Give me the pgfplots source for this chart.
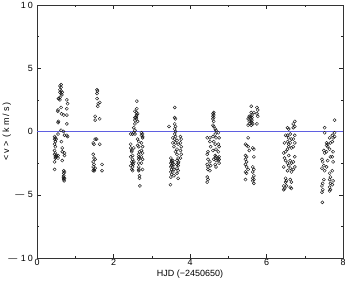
\documentclass[border=0pt]{standalone}
\usepackage{fontspec}
\setmainfont{Liberation Sans}
\usepackage{pgfplots}
\pgfplotsset{compat=1.18}
\begin{document}
\fontsize{9}{10}\selectfont
\begin{tikzpicture}
\begin{axis}[name=ax,
  scale only axis, width=306bp, height=253bp,
  xmin=0, xmax=8, ymin=-10, ymax=10,
  xtick={0,2,4,6,8}, xticklabels={0,2,4,6,8},
  minor xtick={1,3,5,7},
  ytick={-10,-5,0,5,10},
  yticklabels={{—\kern3.5bp 1\kern2bp 0},{—\kern3.5bp 5},0,5,{1\kern2bp 0}},
  minor ytick={-7.5,-2.5,2.5,7.5},
  tick align=inside, major tick length=3.8bp, minor tick length=2.4bp,
  tick style={black!85, line width=0.5pt},
  axis line style={black!80, line width=0.55pt},
  xlabel={HJD (−2450650)},
  ylabel={\addfontfeature{LetterSpace=22}<v> (km/s)},
  xlabel style={yshift=2pt},
  ylabel style={at={(axis description cs:-0.099,0.5)}, anchor=center},
  xticklabel style={yshift=2bp},
  yticklabel style={xshift=-1bp},
  tick label style={font=\fontsize{9}{10}\selectfont},
  label style={font=\fontsize{9}{10}\selectfont},
]
\addplot[color={rgb,255:red,95;green,95;blue,225}, line width=0.6pt] coordinates {(0,0) (8,0)};
\addplot[only marks, mark=o, mark size=1.55bp, mark options={line width=0.45pt, black!90}] table {
x y
0.46 -0.4
0.46 -0.6
0.46 -1.0
0.46 -1.5
0.46 -1.8
0.46 -2.4
0.46 -3.0
0.48 -0.5
0.48 -0.8
0.48 -1.2
0.48 -1.7
0.48 -2.0
0.48 -2.1
0.50 -0.6
0.50 -1.9
0.50 -2.0
0.55 1.7
0.55 0.7
0.55 -0.2
0.55 -1.9
0.55 -2.1
0.56 2.6
0.54 1.6
0.56 0.8
0.60 3.6
0.60 3.3
0.60 3.1
0.60 2.7
0.60 2.5
0.58 2.6
0.63 3.7
0.63 3.5
0.63 3.2
0.63 3.0
0.63 1.9
0.64 1.4
0.63 0.1
0.64 -0.8
0.66 -1.3
0.66 -1.6
0.66 -2.3
0.66 3.1
0.65 2.9
0.70 -3.1
0.70 -3.3
0.70 -3.5
0.70 -3.7
0.70 -3.8
0.69 -3.6
0.70 1.3
0.69 0.0
0.72 -0.3
0.72 -1.7
0.72 -1.9
0.72 -3.2
0.72 -3.7
0.71 -3.9
0.78 2.5
0.78 1.8
0.78 1.3
0.78 0.6
0.78 -0.3
0.80 2.2
0.80 -0.4
1.47 -0.9
1.47 -1.8
1.47 -2.4
1.47 -2.8
1.47 -3.1
1.49 -1.0
1.49 -2.1
1.49 -2.6
1.49 -3.0
1.50 -3.1
1.52 0.9
1.52 1.2
1.52 -0.6
1.52 -2.2
1.52 -2.9
1.57 3.3
1.58 3.2
1.57 3.0
1.57 2.6
1.60 2.2
1.59 2.0
1.64 2.3
1.64 1.0
1.64 -1.0
1.56 -0.6
1.70 -2.6
1.70 -3.1
2.45 -0.2
2.45 -1.3
2.45 -2.0
2.45 -2.7
2.45 -1.0
2.48 -1.5
2.48 -2.4
2.48 -3.0
2.48 -1.6
2.50 -1.9
2.50 -2.2
2.50 -2.5
2.50 -2.8
2.50 -3.1
2.50 -0.2
2.51 -2.6
2.53 -2.4
2.53 -1.3
2.53 0.3
2.53 -0.1
2.56 1.1
2.56 0.9
2.56 0.6
2.56 0.1
2.56 -0.2
2.56 1.6
2.60 1.5
2.60 1.3
2.60 1.2
2.60 1.0
2.61 1.8
2.61 2.4
2.59 1.1
2.63 1.4
2.63 0.8
2.63 -0.6
2.63 -1.1
2.66 -0.8
2.66 -1.2
2.66 -1.8
2.66 -2.0
2.66 -2.2
2.66 -2.5
2.66 -2.8
2.66 -3.0
2.66 -3.1
2.68 -3.5
2.68 -3.7
2.69 -4.3
2.68 -2.1
2.68 -1.6
2.73 -0.1
2.73 -0.3
2.73 -0.9
2.73 -1.5
2.73 -2.0
2.73 -2.5
2.76 -0.2
2.76 -0.5
2.76 -1.2
2.76 -1.7
2.76 -2.2
2.76 -3.0
2.76 -0.4
3.45 0.4
3.50 -2.1
3.50 -2.5
3.50 -2.8
3.50 -3.2
3.50 -3.6
3.49 -4.2
3.52 -2.3
3.52 -2.7
3.52 -3.0
3.52 -3.4
3.52 -2.4
3.55 -2.5
3.55 -2.8
3.55 -3.2
3.55 -0.5
3.55 -0.9
3.55 -2.3
3.58 -2.6
3.58 -3.0
3.58 -3.5
3.58 -1.2
3.60 1.9
3.60 1.1
3.60 0.6
3.60 0.2
3.60 -0.2
3.60 -0.6
3.62 1.0
3.62 0.4
3.62 0.0
3.62 -0.4
3.62 -0.9
3.62 -1.6
3.66 -1.8
3.66 -2.3
3.66 -2.6
3.66 -2.9
3.66 -3.3
3.66 -1.4
3.66 -0.7
3.69 -2.1
3.69 -2.5
3.69 -2.7
3.69 -3.1
3.69 -3.7
3.69 -1.0
3.70 -2.4
3.75 -0.4
3.75 -0.9
3.75 -1.5
3.75 -2.1
3.77 -0.6
3.77 -1.2
3.77 -1.8
4.45 -0.5
4.45 -1.8
4.45 -2.6
4.45 -3.6
4.45 -4.0
4.47 -1.6
4.47 -2.2
4.47 -2.8
4.47 -3.0
4.47 -3.8
4.52 -0.8
4.52 -2.4
4.52 -3.1
4.52 -0.5
4.54 -1.2
4.54 -2.7
4.60 1.4
4.60 1.2
4.60 1.0
4.60 0.5
4.60 -0.4
4.60 -1.5
4.62 1.5
4.62 1.3
4.62 1.1
4.62 0.8
4.62 0.4
4.62 -0.8
4.62 -2.2
4.66 0.2
4.66 -0.2
4.66 -1.0
4.66 -1.9
4.66 -2.1
4.66 -2.6
4.68 0.1
4.68 -0.5
4.68 -1.4
4.68 -2.0
4.68 -2.3
4.68 -2.8
4.74 -0.1
4.74 -1.0
4.74 -1.6
4.74 -2.1
4.74 -2.3
4.76 -0.5
4.76 -1.2
4.76 -2.0
4.76 -2.2
4.76 -2.5
5.45 -1.0
5.45 -1.9
5.45 -2.2
5.45 -2.6
5.45 -3.2
5.45 -3.8
5.48 -1.1
5.48 -2.0
5.48 -2.4
5.48 -2.8
5.48 -3.3
5.52 0.5
5.52 1.0
5.52 -0.5
5.52 -1.2
5.52 -3.0
5.55 0.6
5.55 0.8
5.55 1.1
5.55 1.2
5.55 -1.5
5.60 2.0
5.60 1.5
5.60 1.2
5.60 1.0
5.60 0.8
5.60 0.5
5.62 1.3
5.62 1.1
5.62 0.9
5.62 0.7
5.64 -1.3
5.64 -2.8
5.64 -3.2
5.64 -3.7
5.64 -3.9
5.64 0.6
5.67 -1.4
5.67 -3.0
5.67 -3.5
5.67 -3.8
5.67 -4.1
5.67 -2.0
5.67 1.5
5.75 1.9
5.75 1.4
5.75 0.6
5.77 1.7
5.77 1.2
6.45 -1.7
6.45 -2.8
6.45 -4.3
6.45 -4.6
6.47 -2.1
6.47 -4.5
6.47 -0.9
6.50 -2.3
6.50 -1.6
6.50 -3.7
6.50 -4.0
6.50 -0.3
6.52 -3.9
6.52 -4.3
6.55 0.3
6.55 -0.3
6.55 -0.8
6.55 -1.4
6.55 -2.5
6.55 -3.1
6.58 0.2
6.58 -0.5
6.58 -1.0
6.58 -1.9
6.58 -2.7
6.58 -1.2
6.62 -0.2
6.62 -0.9
6.62 -2.3
6.62 -2.9
6.62 -3.8
6.62 -4.4
6.65 -0.6
6.65 -1.3
6.65 -2.5
6.65 -3.2
6.65 -4.0
6.65 -4.5
6.70 0.6
6.70 0.3
6.70 -0.6
6.70 -1.2
6.70 -2.4
6.70 -3.0
6.74 0.8
6.74 0.4
6.74 -0.3
6.74 -0.9
6.74 -2.0
6.74 -2.8
7.45 -2.2
7.45 -2.9
7.45 -4.3
7.45 -4.8
7.47 -2.4
7.47 -4.1
7.47 -4.6
7.46 -5.6
7.50 -1.5
7.50 -2.7
7.50 -3.8
7.52 0.3
7.52 -1.7
7.52 -3.1
7.52 -0.1
7.57 -0.9
7.57 -1.1
7.57 -1.6
7.57 -2.8
7.60 -1.0
7.60 -1.2
7.60 -2.3
7.65 -0.5
7.65 -1.4
7.65 -3.3
7.65 -3.8
7.65 -4.4
7.65 -4.7
7.67 -0.9
7.67 -2.0
7.67 -3.6
7.67 -4.1
7.67 -4.6
7.72 -0.3
7.72 -0.8
7.72 -2.0
7.72 -3.1
7.72 -4.2
7.74 -0.5
7.74 -1.6
7.74 -2.4
7.74 -3.9
7.78 0.9
7.78 -0.1
7.78 -0.4
};
\end{axis}
\pgfresetboundingbox
\useasboundingbox ([xshift=-37bp,yshift=-25bp]ax.south west) rectangle ([xshift=2bp,yshift=5bp]ax.north east);
\end{tikzpicture}
\end{document}
